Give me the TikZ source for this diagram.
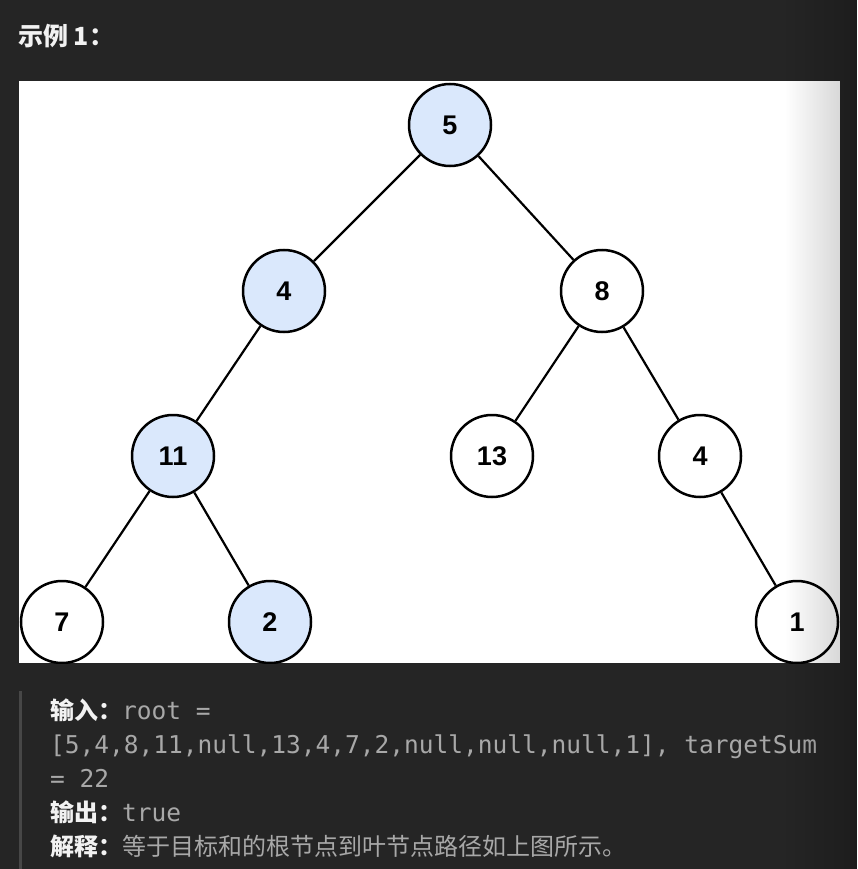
\documentclass[tikz,border=0pt]{standalone}
\usepackage{fontspec}
\usetikzlibrary{fadings}
\setmainfont{Liberation Sans}
\newfontfamily\cjk{Noto Sans CJK SC}
\newfontfamily\mono{DejaVu Sans Mono}
\definecolor{bg}{HTML}{252525}
\definecolor{bar}{HTML}{474747}
\definecolor{lbl}{HTML}{F2F2F2}
\definecolor{txt}{HTML}{A8A8A8}
\definecolor{nodeblue}{HTML}{DAE8FC}
\tikzfading[name=fade right, left color=transparent!100, right color=transparent!0]
\tikzset{
  treenode/.style={circle, draw=black, line width=2.5pt, minimum size=82pt, inner sep=0pt,
    font=\fontsize{27}{27}\selectfont\bfseries, text=black},
  hit/.style={treenode, fill=nodeblue},
  miss/.style={treenode, fill=white},
  edge/.style={draw=black, line width=2.2pt},
  textline/.style={anchor=base west, inner sep=0pt},
}
\begin{document}
\begin{tikzpicture}[x=1pt,y=-1pt]
\useasboundingbox (0,0) rectangle (857,869);
\fill[bg] (0,0) rectangle (857,869);
% title
\node[anchor=base west, inner sep=0pt, text=lbl, font=\cjk\bfseries\fontsize{25}{25}\selectfont] (title) at (18,46) {示例 1：};
% panel
\fill[white] (19,81) rectangle (840,663);
\begin{scope}
\clip (19,81) rectangle (840,663);
\node[hit]  (n5)  at (450,125) {5};
\node[hit]  (n4)  at (284,291) {4};
\node[miss] (n8)  at (602,291) {8};
\node[hit]  (n11) at (173,456) {11};
\node[miss] (n13) at (492,456) {13};
\node[miss] (n4b) at (700,456) {4};
\node[miss] (n7)  at (62,622)  {7};
\node[hit]  (n2)  at (270,622) {2};
\node[miss] (n1)  at (797,622) {1};
\draw[edge] (n5) -- (n4);
\draw[edge] (n5) -- (n8);
\draw[edge] (n4) -- (n11);
\draw[edge] (n8) -- (n13);
\draw[edge] (n8) -- (n4b);
\draw[edge] (n11) -- (n7);
\draw[edge] (n11) -- (n2);
\draw[edge] (n4b) -- (n1);
\end{scope}
% quote bar
\fill[bar] (19,691) rectangle (22,869);
% text lines
\node[textline] (l1) at (50,719) {\textcolor{lbl}{\cjk\bfseries\fontsize{24}{24}\selectfont 输入：}\textcolor{txt}{\mono\fontsize{24.5}{24.5}\selectfont root =}};
\node[textline] (l2) at (50,753) {\textcolor{txt}{\mono\fontsize{24.5}{24.5}\selectfont [5,4,8,11,null,13,4,7,2,null,null,null,1], targetSum}};
\node[textline] (l3) at (50,787) {\textcolor{txt}{\mono\fontsize{24.5}{24.5}\selectfont = 22}};
\node[textline] (l4) at (50,821) {\textcolor{lbl}{\cjk\bfseries\fontsize{24}{24}\selectfont 输出：}\textcolor{txt}{\mono\fontsize{24.5}{24.5}\selectfont true}};
\node[textline] (l5) at (50,855) {\textcolor{lbl}{\cjk\bfseries\fontsize{24}{24}\selectfont 解释：}\textcolor{txt}{\cjk\fontsize{24}{24}\selectfont 等于目标和的根节点到叶节点路径如上图所示。}};
% right-edge darkening overlay
\fill[black, opacity=0.2, path fading=fade right] (785,0) rectangle (857,869);
\end{tikzpicture}
\end{document}
